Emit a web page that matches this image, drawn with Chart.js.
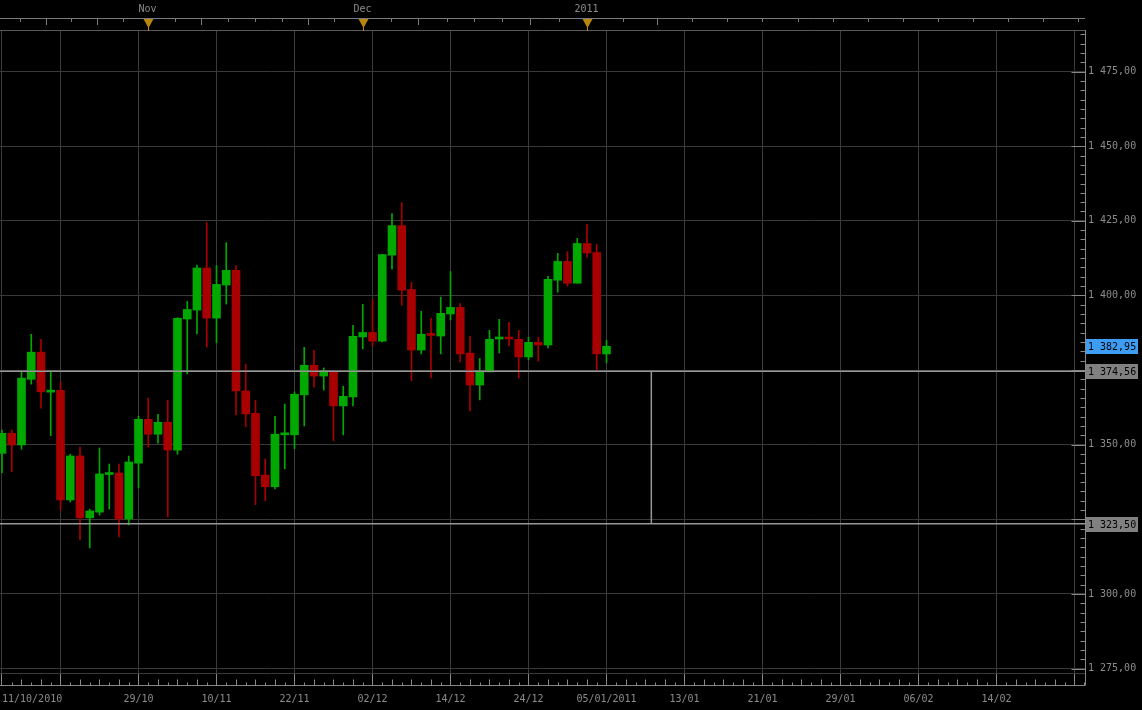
<!DOCTYPE html>
<html>
<head>
<meta charset="utf-8">
<title>Candlestick chart</title>
<script src="https://cdn.jsdelivr.net/npm/chart.js@4.4.0/dist/chart.umd.min.js"></script>
<style>
  html, body { margin: 0; padding: 0; background: #000; }
  canvas { display: block; }
</style>
</head>
<body>
<canvas id="candles" width="1142" height="710"></canvas>
<script>
// trading days shown on the chart
const dates = [
  '11/10', '12/10', '13/10', '14/10', '15/10', '18/10', '19/10', '20/10', '21/10', '22/10',
  '25/10', '26/10', '27/10', '28/10', '29/10', '01/11', '02/11', '03/11', '04/11', '05/11',
  '08/11', '09/11', '10/11', '11/11', '12/11', '15/11', '16/11', '17/11', '18/11', '19/11',
  '22/11', '23/11', '24/11', '25/11', '26/11', '29/11', '30/11', '01/12', '02/12', '03/12',
  '06/12', '07/12', '08/12', '09/12', '10/12', '13/12', '14/12', '15/12', '16/12', '17/12',
  '20/12', '21/12', '22/12', '23/12', '24/12', '27/12', '28/12', '29/12', '30/12', '31/12',
  '03/01', '04/01', '05/01'
];
const opens = [
  1347.1, 1353.8, 1349.9, 1371.9, 1381.0, 1367.6, 1368.2, 1331.5, 1346.2, 1325.5,
  1327.4, 1340.0, 1340.5, 1325.1, 1343.8, 1358.5, 1353.5, 1357.5, 1348.2, 1392.1,
  1395.1, 1409.2, 1392.4, 1403.5, 1408.4, 1368.0, 1360.5, 1339.8, 1335.9, 1353.3,
  1353.3, 1366.7, 1376.6, 1373.0, 1374.6, 1363.0, 1366.0, 1386.1, 1387.6, 1384.7,
  1413.5, 1423.4, 1402.0, 1381.7, 1387.0, 1386.4, 1393.8, 1396.0, 1380.7, 1370.0,
  1374.4, 1385.4, 1385.7, 1385.3, 1379.4, 1384.3, 1383.4, 1405.1, 1411.4, 1404.1,
  1417.4, 1414.4, 1380.4
];
const highs = [
  1354.9, 1354.9, 1374.4, 1387.0, 1385.3, 1374.7, 1371.0, 1346.8, 1349.2, 1328.4,
  1348.9, 1343.5, 1343.5, 1346.2, 1359.5, 1365.6, 1360.2, 1364.9, 1392.6, 1398.0,
  1410.2, 1424.4, 1410.0, 1417.7, 1410.0, 1377.0, 1364.9, 1345.2, 1359.5, 1363.6,
  1367.7, 1382.6, 1381.6, 1375.7, 1374.6, 1369.6, 1390.0, 1397.0, 1398.7, 1413.8,
  1427.4, 1431.1, 1404.4, 1394.7, 1392.3, 1399.4, 1408.0, 1397.3, 1386.3, 1378.9,
  1388.3, 1392.0, 1391.0, 1388.3, 1386.0, 1386.0, 1406.4, 1414.1, 1414.7, 1419.1,
  1423.8, 1417.1, 1385.0
];
const lows = [
  1340.6, 1340.9, 1348.5, 1370.3, 1362.2, 1353.0, 1328.1, 1330.8, 1318.1, 1315.4,
  1326.4, 1328.4, 1319.1, 1323.1, 1335.5, 1349.2, 1350.5, 1325.8, 1346.8, 1373.7,
  1387.1, 1382.7, 1384.1, 1397.1, 1360.0, 1356.0, 1329.9, 1331.2, 1335.2, 1341.9,
  1348.6, 1356.3, 1369.3, 1368.3, 1351.3, 1353.3, 1363.0, 1382.1, 1383.1, 1384.4,
  1408.8, 1396.8, 1371.4, 1380.4, 1372.4, 1380.4, 1391.8, 1377.7, 1361.3, 1365.0,
  1374.4, 1380.7, 1383.1, 1372.4, 1378.4, 1378.0, 1382.4, 1401.1, 1403.1, 1404.1,
  1412.8, 1375.0, 1377.4
];
const closes = [
  1353.8, 1349.9, 1372.3, 1381.0, 1367.7, 1368.2, 1331.5, 1346.2, 1325.5, 1327.8,
  1340.2, 1340.5, 1325.1, 1344.2, 1358.5, 1353.5, 1357.5, 1348.2, 1392.3, 1395.3,
  1409.2, 1392.4, 1403.7, 1408.4, 1368.0, 1360.3, 1339.6, 1335.9, 1353.5, 1353.6,
  1366.9, 1376.6, 1373.0, 1374.7, 1363.0, 1366.2, 1386.3, 1387.6, 1384.7, 1413.7,
  1423.4, 1401.8, 1381.7, 1387.0, 1386.6, 1394.0, 1396.0, 1380.4, 1370.0, 1374.7,
  1385.3, 1385.7, 1385.4, 1379.4, 1384.3, 1383.4, 1405.4, 1411.4, 1404.1, 1417.4,
  1414.2, 1380.4, 1382.95
];

// axis ticks (x in candle index units)
const xTickIdx = [0, 6, 14, 22, 30, 38, 46, 54, 62, 70, 78, 86, 94, 102, 110];
const xTickText = ['11/10/2010', '', '29/10', '10/11', '22/11', '02/12', '14/12', '24/12',
  '05/01/2011', '13/01', '21/01', '29/01', '06/02', '14/02', ''];
const yTicks = [1275, 1300, 1325, 1350, 1375, 1400, 1425, 1450, 1475];
const monthIdx = [15, 37, 60];
const monthText = ['Nov', 'Dec', '2011'];
const topTickIdx = [1.8, 4.5, 7.1, 9.7, 12.4, 15.05, 17.7, 20.4, 23.2, 26, 28.7, 31.4, 34.1, 37,
  39.9, 42.7, 45.6, 48.4, 51.3, 54.2, 57.1, 60, 63.7, 67.2, 70.8, 74.4, 78, 81.6, 85.2,
  88.8, 92.4, 96, 99.6, 103.2, 106.8, 110.4];
const topTickLong = [4.5, 9.7, 20.4, 31.4, 42.7, 54.2, 67.2];

// horizontal levels, measuring line and price tags
const levelValues = [1374.56, 1323.50];
const measureIdx = 66.6;
const tagValues = [1382.95, 1374.56, 1323.50];
const tagColors = ['#3d9df5', '#808080', '#808080'];

const xMin = -0.205, xMax = 111.08;
const yMin = 1273.5, yMax = 1488.6;

const UP = '#00a800', DOWN = '#a80000';
const FONT = "'DejaVu Sans Mono', monospace";
const candleColors = closes.map((c, i) => c >= opens[i] ? UP : DOWN);

function fmtPrice(v) {
  const parts = v.toFixed(2).split('.');
  return parts[0].replace(/\B(?=(\d{3})+(?!\d))/g, ' ') + ',' + parts[1];
}

const axisDecor = {
  id: 'axisDecor',
  afterDraw(chart) {
    const { ctx, chartArea: area, scales: { x, y } } = chart;
    const seg = (x1, y1, x2, y2) => {
      ctx.beginPath(); ctx.moveTo(x1, y1); ctx.lineTo(x2, y2); ctx.stroke();
    };
    ctx.save();
    ctx.lineWidth = 1;

    // top navigator strip
    ctx.strokeStyle = '#7a7a7a';
    seg(0, 18.5, area.right, 18.5);
    topTickIdx.forEach(v => {
      const px = Math.round(x.getPixelForValue(v)) + 0.5;
      seg(px, 19, px, topTickLong.includes(v) ? 25 : 22);
    });
    ctx.strokeStyle = '#5a5a5a';
    seg(0, area.top - 0.5, area.right, area.top - 0.5);

    ctx.font = '10px ' + FONT;
    ctx.textBaseline = 'middle';
    monthIdx.forEach((v, i) => {
      const px = Math.round(x.getPixelForValue(v)) + 0.5;
      ctx.fillStyle = '#b8860b';
      ctx.beginPath();
      ctx.moveTo(px - 5, 19); ctx.lineTo(px + 5, 19); ctx.lineTo(px, 28); ctx.closePath();
      ctx.fill();
      ctx.strokeStyle = '#b8860b';
      seg(px, 27, px, 31);
      ctx.fillStyle = '#8c8c8c';
      ctx.textAlign = 'center';
      ctx.fillText(monthText[i], px - 1, 9);
    });

    // bottom time axis baseline + per-day ticks
    const base = area.bottom + 12.5;
    ctx.strokeStyle = '#888';
    seg(0, base, area.right, base);
    for (let i = 0; i <= Math.floor(xMax); i++) {
      if (xTickIdx.includes(i)) continue;
      const px = Math.round(x.getPixelForValue(i)) + 0.5;
      seg(px, base - (i % 2 === 0 ? 6 : 3), px, base);
    }

    // right price axis line + ticks pointing inwards
    const ax = area.right + 0.5;
    seg(ax, area.top - 1, ax, base);
    const step = 3.125;
    for (let v = Math.ceil(yMin / step) * step; v <= yMax; v += step) {
      const py = Math.round(y.getPixelForValue(v)) + 0.5;
      const major = Math.abs(v % 25) < 1e-6;
      seg(ax - (major ? 14 : 5), py, ax, py);
    }

    // price tags
    ctx.textAlign = 'left';
    tagValues.forEach((v, i) => {
      const py = Math.round(y.getPixelForValue(v));
      ctx.fillStyle = tagColors[i];
      ctx.fillRect(area.right + 1, py - 7, 52, 15);
      ctx.fillStyle = '#000';
      ctx.fillText(fmtPrice(v), area.right + 3, py + 1);
    });
    ctx.restore();
  }
};

new Chart(document.getElementById('candles'), {
  type: 'bar',
  data: {
    datasets: [
      ...levelValues.map(v => ({
        type: 'line',
        data: [{ x: xMin, y: v }, { x: xMax, y: v }],
        borderColor: '#969696',
        borderWidth: 1.5,
        pointRadius: 0
      })),
      {
        type: 'line',
        data: [{ x: measureIdx, y: levelValues[0] }, { x: measureIdx, y: levelValues[1] }],
        borderColor: '#969696',
        borderWidth: 1.5,
        pointRadius: 0
      },
      {
        label: 'body',
        data: dates.map((d, i) => ({ x: i, y: [opens[i], closes[i]] })),
        backgroundColor: candleColors,
        barThickness: 8,
        minBarLength: 2,
        grouped: false
      },
      {
        label: 'wick',
        data: dates.map((d, i) => ({ x: i, y: [lows[i], highs[i]] })),
        backgroundColor: candleColors,
        barThickness: 1,
        grouped: false
      }
    ]
  },
  options: {
    responsive: false,
    animation: false,
    events: [],
    layout: { padding: { top: 31 } },
    plugins: {
      legend: { display: false },
      tooltip: { enabled: false }
    },
    scales: {
      x: {
        type: 'linear',
        position: 'bottom',
        min: xMin,
        max: xMax,
        offset: false,
        afterBuildTicks: s => { s.ticks = xTickIdx.map(v => ({ value: v })); },
        afterFit: s => { s.height = 37; },
        grid: {
          color: '#3a3a3a',
          tickColor: '#888',
          tickLength: 12,
          offset: false
        },
        border: { color: '#3a3a3a' },
        ticks: {
          autoSkip: false,
          maxRotation: 0,
          minRotation: 0,
          align: 'inner',
          padding: 0,
          color: '#8c8c8c',
          font: { family: FONT, size: 10, lineHeight: 2.9 },
          callback: (v, i) => xTickText[i]
        }
      },
      y: {
        type: 'linear',
        position: 'right',
        min: yMin,
        max: yMax,
        afterBuildTicks: s => { s.ticks = yTicks.map(v => ({ value: v })); },
        afterFit: s => { s.width = 57; },
        grid: { color: '#3a3a3a', drawTicks: false },
        border: { color: '#888' },
        ticks: {
          padding: 3,
          color: '#8c8c8c',
          font: { family: FONT, size: 10 },
          // labels hidden behind the price tags are left out
          callback: v => tagValues.some(t => Math.abs(t - v) < 3) ? '' : fmtPrice(v)
        }
      }
    }
  },
  plugins: [axisDecor]
});
</script>
</body>
</html>
